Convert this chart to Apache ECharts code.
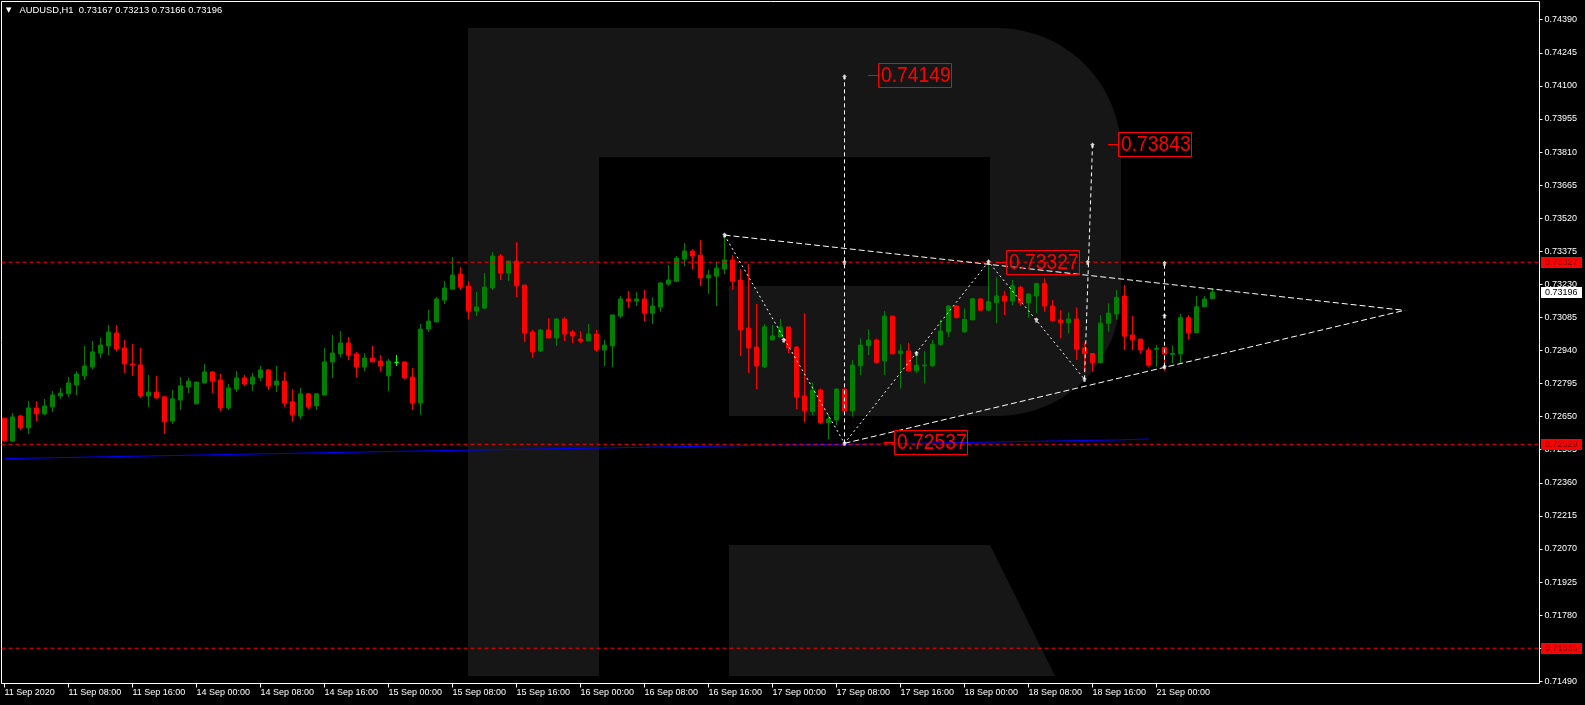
<!DOCTYPE html>
<html><head><meta charset="utf-8">
<style>html,body{margin:0;padding:0;background:#000;}#c{width:1585px;height:705px;}</style>
<script src="https://cdn.jsdelivr.net/npm/echarts@6.0.0/dist/echarts.min.js"></script>
</head><body><div id="c"></div>
<script>
const symbolName = 'AUDUSD,H1';
const lastBar = [0.73167, 0.73213, 0.73166, 0.73196]; // O H L C
const timeTickIndex = [0,8,16,24,32,40,48,56,64,72,80,88,96,104,112,120,128,136,144];
const timeTickLabels = ['11 Sep 2020','11 Sep 08:00','11 Sep 16:00','14 Sep 00:00','14 Sep 08:00','14 Sep 16:00','15 Sep 00:00','15 Sep 08:00','15 Sep 16:00','16 Sep 00:00','16 Sep 08:00','16 Sep 16:00','17 Sep 00:00','17 Sep 08:00','17 Sep 16:00','18 Sep 00:00','18 Sep 08:00','18 Sep 16:00','21 Sep 00:00'];
const priceTicks = [0.74390,0.74245,0.74100,0.73955,0.73810,0.73665,0.73520,0.73375,0.73230,0.73085,0.72940,0.72795,0.72650,0.72505,0.72360,0.72215,0.72070,0.71925,0.71780,0.71635,0.71490];
// [open, close, low, high]
const candles = [
[0.72643,0.72545,0.72540,0.72645],[0.72543,0.72649,0.72539,0.72666],[0.72653,0.72601,0.72591,0.72658],[0.72601,0.72688,0.72574,0.72719],
[0.72688,0.72662,0.72631,0.72719],[0.72662,0.72697,0.72658,0.72728],[0.72693,0.72745,0.72671,0.72763],[0.72741,0.72754,0.72728,0.72776],
[0.72750,0.72798,0.72737,0.72824],[0.72789,0.72837,0.72745,0.72850],[0.72829,0.72872,0.72811,0.72960],[0.72868,0.72934,0.72859,0.72982],
[0.72929,0.72964,0.72907,0.72995],[0.72960,0.73021,0.72920,0.73052],[0.73017,0.72947,0.72938,0.73052],[0.72951,0.72881,0.72842,0.72986],
[0.72881,0.72877,0.72829,0.72969],[0.72877,0.72741,0.72732,0.72951],[0.72741,0.72758,0.72693,0.72833],[0.72758,0.72732,0.72730,0.72829],
[0.72737,0.72627,0.72574,0.72741],[0.72631,0.72728,0.72618,0.72767],[0.72723,0.72785,0.72680,0.72824],[0.72780,0.72806,0.72754,0.72820],
[0.72706,0.72802,0.72706,0.72802],[0.72798,0.72846,0.72798,0.72881],[0.72846,0.72806,0.72754,0.72850],[0.72811,0.72688,0.72675,0.72837],
[0.72688,0.72776,0.72680,0.72793],[0.72771,0.72820,0.72758,0.72850],[0.72820,0.72793,0.72784,0.72833],[0.72793,0.72824,0.72763,0.72842],
[0.72820,0.72855,0.72806,0.72872],[0.72855,0.72784,0.72767,0.72859],[0.72789,0.72806,0.72758,0.72872],[0.72806,0.72710,0.72693,0.72846],
[0.72715,0.72658,0.72627,0.72771],[0.72653,0.72750,0.72640,0.72776],[0.72750,0.72693,0.72684,0.72754],[0.72697,0.72750,0.72680,0.72754],
[0.72745,0.72890,0.72745,0.72951],[0.72890,0.72929,0.72820,0.73008],[0.72925,0.72973,0.72911,0.73025],[0.72973,0.72920,0.72898,0.72999],
[0.72925,0.72868,0.72824,0.72934],[0.72868,0.72907,0.72850,0.72929],[0.72907,0.72890,0.72890,0.72960],[0.72894,0.72872,0.72850,0.72920],
[0.72829,0.72894,0.72763,0.72903],[0.72888,0.72888,0.72872,0.72920],[0.72890,0.72820,0.72815,0.72890],[0.72824,0.72710,0.72680,0.72863],
[0.72710,0.73034,0.72658,0.73056],[0.73034,0.73069,0.73021,0.73118],[0.73065,0.73166,0.73065,0.73175],[0.73161,0.73214,0.73144,0.73245],
[0.73209,0.73271,0.73209,0.73350],[0.73275,0.73218,0.73205,0.73306],[0.73223,0.73113,0.73078,0.73245],[0.73113,0.73131,0.73091,0.73196],
[0.73126,0.73218,0.73122,0.73280],[0.73214,0.73354,0.73205,0.73372],[0.73354,0.73280,0.73249,0.73363],[0.73280,0.73332,0.73245,0.73332],
[0.73332,0.73223,0.73174,0.73415],[0.73227,0.73017,0.72977,0.73227],[0.73021,0.72934,0.72907,0.73030],[0.72938,0.73030,0.72934,0.73034],
[0.73030,0.72995,0.72995,0.73082],[0.72995,0.73078,0.72960,0.73082],[0.73078,0.73012,0.72982,0.73087],[0.73021,0.73004,0.72973,0.73030],
[0.72990,0.72982,0.72973,0.73025],[0.72982,0.73012,0.72982,0.73056],[0.73012,0.72942,0.72934,0.73030],[0.72942,0.72964,0.72872,0.72986],
[0.72960,0.73096,0.72868,0.73096],[0.73091,0.73166,0.73082,0.73179],[0.73166,0.73157,0.73126,0.73201],[0.73157,0.73166,0.73135,0.73196],
[0.73166,0.73104,0.73069,0.73205],[0.73104,0.73135,0.73056,0.73174],[0.73131,0.73236,0.73109,0.73240],[0.73231,0.73249,0.73223,0.73315],
[0.73244,0.73345,0.73240,0.73354],[0.73341,0.73376,0.73310,0.73411],[0.73376,0.73354,0.73297,0.73385],[0.73358,0.73258,0.73223,0.73424],
[0.73258,0.73271,0.73188,0.73293],[0.73266,0.73301,0.73135,0.73328],[0.73297,0.73337,0.73275,0.73446],[0.73337,0.73244,0.73205,0.73358],
[0.73249,0.73030,0.72916,0.73297],[0.73038,0.72951,0.72842,0.73319],[0.72955,0.72872,0.72771,0.73144],[0.72868,0.73044,0.72863,0.73056],
[0.72986,0.73004,0.72986,0.73052],[0.72999,0.73043,0.72999,0.73078],[0.73043,0.72951,0.72929,0.73043],[0.72955,0.72736,0.72683,0.72960],
[0.72741,0.72676,0.72625,0.73103],[0.72672,0.72767,0.72657,0.72800],[0.72767,0.72624,0.72618,0.72774],[0.72624,0.72640,0.72551,0.72660],
[0.72635,0.72771,0.72613,0.72774],[0.72771,0.72675,0.72672,0.72774],[0.72676,0.72876,0.72650,0.72898],[0.72873,0.72964,0.72832,0.72993],
[0.72961,0.72986,0.72920,0.73033],[0.72986,0.72888,0.72884,0.72993],[0.72895,0.73091,0.72832,0.73113],[0.73091,0.72925,0.72925,0.73091],
[0.72927,0.72938,0.72774,0.72967],[0.72938,0.72851,0.72847,0.72974],[0.72851,0.72876,0.72840,0.72920],[0.72873,0.72876,0.72796,0.72938],
[0.72873,0.72967,0.72869,0.72986],[0.72967,0.73025,0.72960,0.73074],[0.73022,0.73135,0.73000,0.73139],[0.73135,0.73084,0.73081,0.73139],
[0.73022,0.73076,0.73018,0.73125],[0.73074,0.73167,0.73074,0.73171],[0.73166,0.73117,0.73114,0.73171],[0.73117,0.73154,0.73113,0.73339],
[0.73150,0.73179,0.73059,0.73261],[0.73179,0.73157,0.73095,0.73202],[0.73157,0.73224,0.73139,0.73249],[0.73217,0.73150,0.73135,0.73224],
[0.73150,0.73188,0.73084,0.73188],[0.73179,0.73234,0.73103,0.73237],[0.73234,0.73135,0.73110,0.73256],[0.73135,0.73071,0.73066,0.73161],
[0.73074,0.73062,0.72993,0.73117],[0.73062,0.73078,0.73015,0.73107],[0.73078,0.72946,0.72898,0.73129],[0.72952,0.72927,0.72847,0.72976],
[0.72927,0.72887,0.72847,0.72927],[0.72887,0.73060,0.72884,0.73095],[0.73059,0.73104,0.73022,0.73147],[0.73100,0.73173,0.73076,0.73205],
[0.73179,0.73003,0.72942,0.73227],[0.73008,0.72986,0.72942,0.73091],[0.72990,0.72942,0.72927,0.72990],[0.72942,0.72876,0.72869,0.72954],
[0.72945,0.72949,0.72869,0.72964],[0.72954,0.72925,0.72851,0.72954],[0.72923,0.72927,0.72884,0.72962],[0.72925,0.73084,0.72881,0.73100],
[0.73084,0.73018,0.72990,0.73095],[0.73018,0.73132,0.73015,0.73179],[0.73132,0.73166,0.73129,0.73179],[0.73167,0.73196,0.73166,0.73213]
];
const maLine = [[0,0.72466],[49,0.72498],[94,0.72524],[105,0.72529],[124,0.72539],[139,0.72548],[143,0.72552]];
const levelLines = [0.73327, 0.72529, 0.71635];
const currentPrice = 0.73196;
const triangleUpper = [[90,0.73446],[175,0.73116]];
const triangleLower = [[105,0.72533],[175,0.73116]];
const zigzag = [[90,0.73446],[105,0.72533],[123,0.73329],[135,0.72814]];
const targetLines = [
  [[105,0.72533],[105,0.74140]],
  [[135,0.72814],[136,0.73841]],
  [[145,0.72869],[145,0.73322]]
];
const markerPoints = [[90,0.73446],[97.4,0.72986],[105,0.72533],[105,0.73327],[105,0.74140],[114,0.72928],[123,0.73329],
  [129,0.73074],[135,0.72814],[135.4,0.73327],[136,0.73841],[145,0.73322],[145,0.73091],[145,0.72869]];
const targetLabels = [[108.6,0.74149],[138.6,0.73843],[124.6,0.73327],[110.6,0.72537]];

// axis window
const X_MIN = -0.375, X_MAX = 191.875, Y_MIN = 0.714804, Y_MAX = 0.744698;
const W = '#ffffff';
const RED = '#ff0000';
const font = 'Liberation Sans';
const LOGO = '#161616';
function arcPts(cx, cy, r, a0, a1, n) {
  const out = [];
  for (let k = 0; k <= n; k++) { const a = a0 + (a1 - a0) * k / n; out.push([cx + r * Math.cos(a), cy + r * Math.sin(a)]); }
  return out;
}
const bowl = [[599,28],[997,28]]
  .concat(arcPts(997,152,124,-Math.PI/2,0,24))
  .concat(arcPts(997,292,124,0,Math.PI/2,24))
  .concat([[729,416],[729,286],[990,286],[990,157],[599,157]]);
const logoGraphics = [
  {type:'rect', silent:true, shape:{x:468,y:28,width:131,height:648}, style:{fill:LOGO}},
  {type:'polygon', silent:true, shape:{points:bowl}, style:{fill:LOGO}},
  {type:'polygon', silent:true, shape:{points:[[729,545],[990,545],[1055,676],[729,676]]}, style:{fill:LOGO}}
];

const chart = echarts.init(document.getElementById('c'), null, {renderer:'canvas'});
const lineSeries = (data, dash, color, z) => ({type:'line', data, showSymbol:false, silent:true, z:z || 5,
  lineStyle:{color:color || W, width:1, type:dash}});
const option = {
  backgroundColor:'#000000',
  animation:false,
  title:{text:'{t|\u25BC}{s|' + symbolName + '  ' + lastBar.map(v=>v.toFixed(5)).join(' ') + '}', left:3, top:6, padding:0,
    textStyle:{color:W, fontSize:9.4, fontWeight:'normal', fontFamily:font,
      rich:{t:{fontSize:7, color:W, padding:[0,8,0,3], fontFamily:'DejaVu Sans'}, s:{fontSize:9.4, color:W, fontFamily:font}}}},
  grid:{left:1.5, top:1.5, right:45.5, bottom:21.5, show:true, borderColor:W, borderWidth:1, backgroundColor:'transparent'},
  graphic: logoGraphics,
  xAxis:{type:'value', min:X_MIN, max:X_MAX,
    axisLine:{show:false, onZero:false}, splitLine:{show:false},
    axisTick:{show:true, customValues:timeTickIndex, length:4, lineStyle:{color:W}},
    axisLabel:{customValues:timeTickIndex, formatter:v=>timeTickLabels[timeTickIndex.indexOf(v)], align:'left',
      color:W, fontSize:9, fontFamily:font, margin:5}},
  yAxis:{type:'value', position:'right', min:Y_MIN, max:Y_MAX,
    axisLine:{show:false, onZero:false}, splitLine:{show:false},
    axisTick:{show:true, customValues:priceTicks, length:3, lineStyle:{color:W}},
    axisLabel:{customValues:priceTicks, formatter:v=>v.toFixed(5), color:W, fontSize:9, fontFamily:font, margin:5}},
  series:[
    {type:'line', data:maLine, showSymbol:false, silent:true, z:2, lineStyle:{color:'#0000ff', width:1}},
    {type:'candlestick', data:candles.map((c,i)=>[i,c[0],c[1],c[2],c[3]]), encode:{x:0,y:[1,2,3,4]},
      barWidth:4, z:3, silent:true,
      itemStyle:{color:'#008000', color0:RED, borderColor:'#008000', borderColor0:RED, borderColorDoji:'#00ff00', borderWidth:1}},
    ...levelLines.map(v=>lineSeries([[X_MIN,v],[X_MAX,v]],[4,3],RED,4)),
    lineSeries(triangleUpper,[6,3]),
    lineSeries(triangleLower,[6,3]),
    lineSeries(zigzag,[2,3]),
    ...targetLines.map(d=>lineSeries(d,[4,3])),
    {type:'scatter', data:markerPoints, silent:true, z:6, symbol:'path://M2,0 L4,2 L3,2 L3,4 L1,4 L1,2 L0,2 Z', symbolSize:5,
      itemStyle:{color:W}}
  ]
};
chart.setOption(option);
const toPx = (x, v) => chart.convertToPixel({xAxisIndex:0, yAxisIndex:0}, [x, v]);
// target price boxes, positioned through the chart's own scales
const labelGraphics = targetLabels.map(([x, v]) => {
  const p = toPx(x, v);
  return {type:'group', x:Math.round(p[0]), y:Math.round(p[1]), silent:true, z:10, children:[
    {type:'line', shape:{x1:-5, y1:0.5, x2:5, y2:0.5}, style:{stroke:RED, lineWidth:1}, z:10},
    {type:'rect', shape:{x:5.5, y:-11.5, width:73, height:24}, style:{fill:'rgba(0,0,0,0)', stroke:RED, lineWidth:1}, z:10},
    {type:'text', x:8, y:1, scaleX:0.875, z:10,
      style:{text:v.toFixed(5), fill:RED, font:'22px "Liberation Sans"', verticalAlign:'middle', align:'left'}}
  ]};
});
// price-axis boxes for the level lines and the current price
const axisBoxes = levelLines.map(v=>[v, RED, '#700000']).concat([[currentPrice, '#ffffff', '#000000']]).map(([v, bg, fg]) => {
  const p = toPx(X_MAX, v);
  return {type:'group', x:1540, y:Math.round(p[1]), silent:true, z:10, children:[
    {type:'rect', shape:{x:1, y:-5, width:41, height:11}, style:{fill:bg}, z:10},
    {type:'text', x:5, y:0.5, z:11, style:{text:v.toFixed(5), fill:fg, font:'9px "Liberation Sans"', verticalAlign:'middle', align:'left'}}
  ]};
});
chart.setOption({graphic: logoGraphics.concat(labelGraphics, axisBoxes)});
</script></body></html>
